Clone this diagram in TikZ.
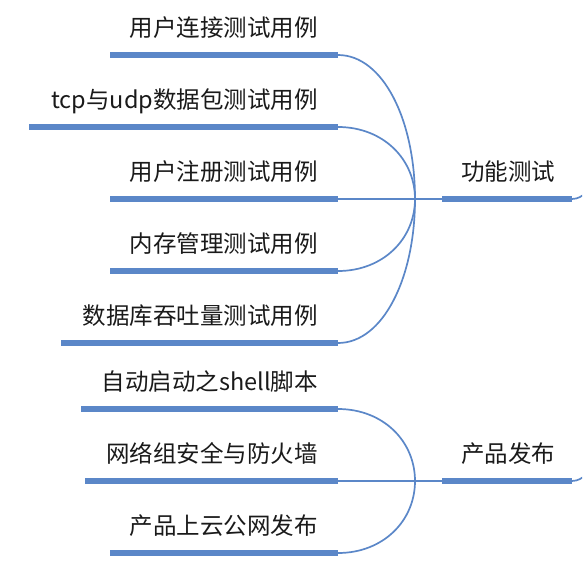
\documentclass[tikz,border=0pt]{standalone}
\usepackage{fontspec}
\newfontfamily\cjk{Noto Sans CJK SC}
\definecolor{mapblue}{HTML}{5B87C8}
\definecolor{maptext}{HTML}{1A1A1A}
\begin{document}
\begin{tikzpicture}[x=1pt,y=-1pt,
  barbox/.style={fill=mapblue,draw=none,inner sep=0pt,minimum height=5.6pt,anchor=east},
  leaflabel/.style={font=\cjk\fontsize{23.5}{28}\selectfont,text=maptext,inner sep=0pt,anchor=base east},
  hublabel/.style={font=\cjk\fontsize{23.5}{28}\selectfont,text=maptext,inner sep=0pt,anchor=base west},
  link/.style={draw=mapblue,line width=1.7pt}]
\useasboundingbox (0,0) rectangle (582,584);
\clip (0,0) rectangle (582,584);
% ---- group 1 : 功能测试
\node[barbox,minimum width=228pt] (b1) at (338,55) {};
\node[barbox,minimum width=309pt] (b2) at (338,127) {};
\node[barbox,minimum width=228pt] (b3) at (338,199) {};
\node[barbox,minimum width=228pt] (b4) at (338,271) {};
\node[barbox,minimum width=277pt] (b5) at (338,343) {};
\node[leaflabel] (t1) at (318,36) {用户连接测试用例};
\node[leaflabel] (t2) at (318,108) {tcp与udp数据包测试用例};
\node[leaflabel] (t3) at (318,180) {用户注册测试用例};
\node[leaflabel] (t4) at (318,252) {内存管理测试用例};
\node[leaflabel] (t5) at (318,324) {数据库吞吐量测试用例};
\coordinate (j1) at (415,199);
\node[barbox,minimum width=130pt] (c1) at (572,199) {};
\node[hublabel] (h1) at (461,180) {功能测试};
\draw[link] (b1.east) .. controls +(45,0) and (415,120) .. (j1);
\draw[link] (b2.east) .. controls +(45,0) and (415,159) .. (j1);
\draw[link] (b3.east) -- (j1);
\draw[link] (b4.east) .. controls +(45,0) and (415,239) .. (j1);
\draw[link] (b5.east) .. controls +(45,0) and (415,278) .. (j1);
\draw[link] (j1) -- (c1.west);
\coordinate (o1) at (586,193);
\draw[link] (c1.east) .. controls +(6,0) and +(-4,3) .. (o1);
% ---- group 2 : 产品发布
\node[barbox,minimum width=257pt] (b6) at (338,409) {};
\node[barbox,minimum width=253pt] (b7) at (338,481) {};
\node[barbox,minimum width=228pt] (b8) at (338,553) {};
\node[leaflabel] (t6) at (318,390) {自动启动之shell脚本};
\node[leaflabel] (t7) at (318,462) {网络组安全与防火墙};
\node[leaflabel] (t8) at (318,534) {产品上云公网发布};
\coordinate (j2) at (415,481);
\node[barbox,minimum width=130pt] (c2) at (572,481) {};
\node[hublabel] (h2) at (461,462) {产品发布};
\draw[link] (b6.east) .. controls +(45,0) and (415,441) .. (j2);
\draw[link] (b7.east) -- (j2);
\draw[link] (b8.east) .. controls +(45,0) and (415,521) .. (j2);
\draw[link] (j2) -- (c2.west);
\coordinate (o2) at (586,475);
\draw[link] (c2.east) .. controls +(6,0) and +(-4,3) .. (o2);
\end{tikzpicture}
\end{document}
